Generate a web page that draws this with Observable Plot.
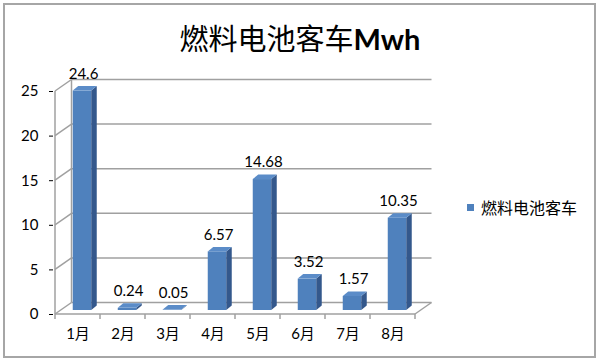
<!DOCTYPE html>
<html>
<head>
<meta charset="utf-8">
<script src="https://cdn.jsdelivr.net/npm/d3@7"></script>
<script src="https://cdn.jsdelivr.net/npm/@observablehq/plot@0.6"></script>
<style>
  html, body { margin: 0; padding: 0; background: #fff; }
  #wrap { position: relative; width: 600px; height: 362px; overflow: hidden; background: #fff; }
  #border { position: absolute; left: 3px; top: 3px; width: 589px; height: 351px; border: 2px solid #A6A6A6; }
  #chart { position: absolute; left: 0; top: 0; }
  #title { position: absolute; left: 0; width: 600px; top: 17px; line-height: 40px; text-align: center;
           font-size: 29px; color: #000; font-family: "Noto Sans CJK SC", sans-serif; font-weight: 400; }
  #title b { font-family: Lato, "Open Sans", sans-serif; font-weight: 700; }
  #legend { position: absolute; left: 467px; top: 197px; height: 20px; display: flex; align-items: center;
            font-family: "Noto Sans CJK SC", sans-serif; font-size: 16px; color: #000; }
  #legend .sw { width: 7px; height: 7px; background: #4F81BD; margin-right: 7px; }
</style>
</head>
<body>
<div id="wrap">
  <div id="border"></div>
  <div id="chart"></div>
  <div id="title"></div>
  <div id="legend"></div>
</div>
<script>
const months = ["1月", "2月", "3月", "4月", "5月", "6月", "7月", "8月"];
const values = [24.6, 0.24, 0.05, 6.57, 14.68, 3.52, 1.57, 10.35];
const yTicks = [0, 5, 10, 15, 20, 25];
const seriesName = "燃料电池客车";
const titleMain = "燃料电池客车";
const titleUnit = "Mwh";

const data = months.map((m, i) => ({month: m, value: values[i]}));

// 3D geometry (pixels)
const WALL_DX = 16.5, WALL_DY = -11.5;   // floor depth (front -> back wall)
const BAR_DX = 4.5, BAR_DY = -4;         // bar front face offset from floor front
const SIDE_DX = 5.5, SIDE_DY = -4.5;     // bar depth
const BAR_INSET = 13.25;

const FRONT = "#4F81BD", SIDE = "#34588C", TOP = "#5B8CC8", GRID = "#A0A0A0";

function svgEl(doc, tag, attrs) {
  const e = doc.createElementNS("http://www.w3.org/2000/svg", tag);
  for (const k in attrs) e.setAttribute(k, attrs[k]);
  return e;
}

// walls, gridlines, floor, front axis, x tick marks
function walls(index, scales, values, dims, context) {
  const doc = (context && context.document) || document;
  const g = svgEl(doc, "g", {stroke: GRID, "stroke-width": 1.5, fill: "none"});
  const x = scales.x, y = scales.y;
  const x0 = x(months[0]);
  const bw = x.bandwidth ? x.bandwidth() : 45.5;
  const x1 = x(months[months.length - 1]) + bw;
  const yb = y(0), yt = y(yTicks[yTicks.length - 1]);
  g.appendChild(svgEl(doc, "line", {x1: x0 + WALL_DX, y1: yb + WALL_DY, x2: x0 + WALL_DX, y2: yt + WALL_DY}));
  g.appendChild(svgEl(doc, "line", {x1: x0, y1: yb, x2: x0, y2: yt}));
  for (const t of yTicks) {
    const yy = y(t);
    g.appendChild(svgEl(doc, "line", {x1: x0, y1: yy, x2: x0 + WALL_DX, y2: yy + WALL_DY}));
    g.appendChild(svgEl(doc, "line", {x1: x0 + WALL_DX, y1: yy + WALL_DY, x2: x1 + WALL_DX, y2: yy + WALL_DY}));
  }
  g.appendChild(svgEl(doc, "line", {x1: x0, y1: yb, x2: x1, y2: yb}));
  g.appendChild(svgEl(doc, "line", {x1: x1, y1: yb, x2: x1 + WALL_DX, y2: yb + WALL_DY}));
  for (let i = 0; i <= months.length; i++) {
    const xx = x0 + i * bw;
    g.appendChild(svgEl(doc, "line", {x1: xx, y1: yb, x2: xx, y2: yb + 5}));
  }
  return g;
}

// side and top faces of the bars
function barFaces(index, scales, values, dims, context) {
  const doc = (context && context.document) || document;
  const g = svgEl(doc, "g", {});
  const x = scales.x, y = scales.y;
  const bw = x.bandwidth ? x.bandwidth() : 45.5;
  for (const d of data) {
    const xl = x(d.month) + BAR_INSET + BAR_DX;
    const xr = x(d.month) + bw - BAR_INSET + BAR_DX;
    const yb = y(0) + BAR_DY;
    const yt = y(d.value) + BAR_DY;
    const side = [[xr, yt], [xr + SIDE_DX, yt + SIDE_DY], [xr + SIDE_DX, yb + SIDE_DY], [xr, yb]];
    const top = [[xl, yt], [xr, yt], [xr + SIDE_DX, yt + SIDE_DY], [xl + SIDE_DX, yt + SIDE_DY]];
    g.appendChild(svgEl(doc, "polygon", {points: side.map(p => p.join(",")).join(" "), fill: SIDE}));
    g.appendChild(svgEl(doc, "polygon", {points: top.map(p => p.join(",")).join(" "), fill: TOP}));
  }
  return g;
}

const chart = Plot.plot({
  width: 600,
  height: 362,
  marginLeft: 53,
  marginRight: 183,
  marginTop: 91,
  marginBottom: 48,
  style: {fontFamily: "Lato, 'Noto Sans CJK SC', sans-serif", fontSize: "15px", color: "#000", background: "transparent", overflow: "visible"},
  x: {domain: months, padding: 0, tickSize: 0, tickPadding: 14, label: null},
  y: {domain: [0, 25], ticks: yTicks, tickSize: 4, tickPadding: 11, label: null, tickFormat: d => String(d)},
  marks: [
    walls,
    Plot.barY(data, {x: "month", y: "value", fill: FRONT, insetLeft: BAR_INSET, insetRight: BAR_INSET, dx: BAR_DX, dy: BAR_DY}),
    barFaces,
    Plot.text(data, {x: "month", y: "value", text: d => String(d.value), dx: BAR_DX + 1, dy: BAR_DY - 17, fontSize: 15, fill: "#000"})
  ]
});
document.getElementById("chart").appendChild(chart);

document.getElementById("title").innerHTML = titleMain + "<b>" + titleUnit + "</b>";
document.getElementById("legend").innerHTML = '<div class="sw"></div><span>' + seriesName + '</span>';
</script>
</body>
</html>
